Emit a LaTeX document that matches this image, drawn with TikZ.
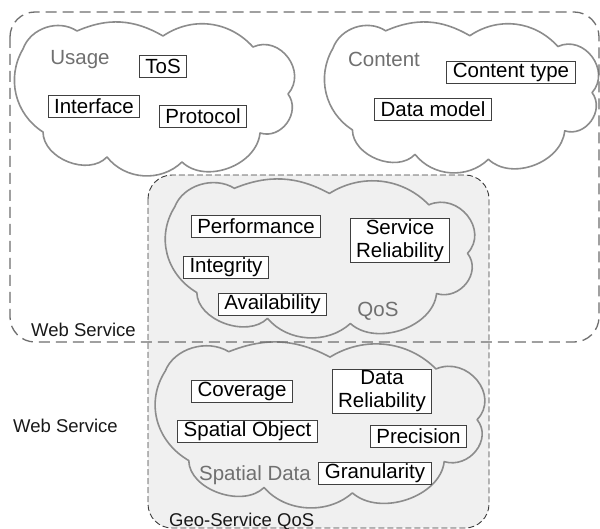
\documentclass[tikz,border=0pt]{standalone}
\usepackage{fontspec}
\setmainfont{Liberation Sans}
\definecolor{cloudc}{HTML}{8C8C8C}
\definecolor{grayfill}{HTML}{F0F0F0}
\definecolor{labelc}{HTML}{707070}
\definecolor{wsdash}{HTML}{6E6E6E}
\definecolor{qosdash}{HTML}{3C3C3C}
\definecolor{boxline}{HTML}{404040}
% cloud in a frame: #1 style, #2,#3 top-left corner, #4 width, #5 height
\newcommand\mycloud[5]{%
\begin{scope}[shift={(#2,#3)},xscale=#4/277,yscale=#5/154]
\path[#1] (7,27)
  to[bend left=52] (61,9)
  to[bend left=27] (147,14)
  to[bend left=41] (237,25)
  to[bend left=78,looseness=1.3] (272,72)
  to[bend left=72,looseness=1.2] (244,111)
  to[bend left=64] (166,140)
  to[bend left=48] (91,135)
  to[bend left=68] (27,110)
  to[bend left=44] (7,27) -- cycle;
\end{scope}}
\begin{document}
\begin{tikzpicture}[x=1pt,y=-1pt,
  cloudline/.style={draw=cloudc,line width=1.6pt,line join=round},
  item/.style={draw=boxline,line width=0.8pt,fill=white,font=\fontsize{20.5}{23}\selectfont,inner xsep=6pt,inner ysep=1pt,minimum height=22pt,align=center,text=black},
  tag/.style={font=\fontsize{20.5}{23}\selectfont,text=labelc,inner sep=0pt},
  wslabel/.style={font=\fontsize{18.5}{22}\selectfont,text=black!90,inner sep=0pt,anchor=base west},
  wsbox/.style={draw=wsdash,line width=1.3pt,dash pattern=on 11pt off 6pt,rounded corners=25pt},
  qosbox/.style={draw=qosdash,line width=0.9pt,dash pattern=on 6pt off 3pt,rounded corners=24pt,fill=grayfill}]
\useasboundingbox[fill=white] (0,0) rectangle (600,529);
% top clouds
\mycloud{cloudline,fill=white}{16}{22}{277}{154}
\mycloud{cloudline,fill=white}{326}{22}{271}{151}
% Geo-Service QoS box
\path[qosbox] (148,175) rectangle (489,528);
\mycloud{cloudline,fill=grayfill}{167}{179}{306}{159}
\mycloud{cloudline,fill=grayfill}{157}{342}{326}{166}
% Web Service box outline
\draw[wsbox] (10,12) rectangle (599,342);
% labels
\node[wslabel] (wsin) at (31,337) {Web Service};
\node[wslabel] (wsleft) at (13,432) {Web Service};
\node[wslabel] (geo) at (169,526) {Geo-Service QoS};
\node[tag] (usage) at (80,60) {Usage};
\node[tag] (content) at (384,59.5) {Content};
\node[tag] (qos) at (378,311) {QoS};
\node[tag] (spatial) at (255,475) {Spatial Data};
% items
\node[item] (tos) at (163,66) {ToS};
\node[item] (interface) at (94,106.5) {Interface};
\node[item] (protocol) at (203,116.5) {Protocol};
\node[item] (ctype) at (511,72.5) {Content type};
\node[item] (dmodel) at (433,109.5) {Data model};
\node[item] (perf) at (256,226) {Performance};
\node[item] (srel) at (400,240.5) {Service\\Reliability};
\node[item] (integ) at (226,267) {Integrity};
\node[item] (avail) at (272.5,304.5) {Availability};
\node[item] (cover) at (242,391.5) {Coverage};
\node[item] (drel) at (382,391.5) {Data\\Reliability};
\node[item] (sobj) at (247.5,431) {Spatial Object};
\node[item] (prec) at (418.5,436) {Precision};
\node[item] (gran) at (375,473.5) {Granularity};
\end{tikzpicture}
\end{document}
